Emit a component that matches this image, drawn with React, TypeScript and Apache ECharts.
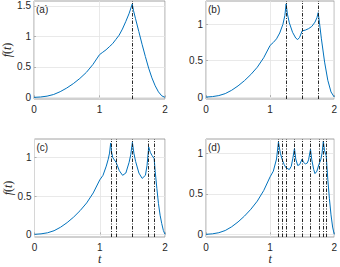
import React, { useEffect, useRef } from 'react';
import * as echarts from 'echarts';

// shared rising part t in [0, 1)
const riseT = [0, 0.1, 0.2, 0.3, 0.4, 0.5, 0.6, 0.7, 0.8, 0.9];
const riseV = [0, 0.006, 0.02, 0.047, 0.093, 0.153, 0.225, 0.31, 0.41, 0.54];

const tA = [1.0, 1.05, 1.1, 1.15, 1.2, 1.25, 1.3, 1.35, 1.4, 1.45, 1.5, 1.52, 1.55, 1.6, 1.65, 1.7, 1.75, 1.8, 1.85, 1.9, 1.95, 2.0];
const fA = [0.70, 0.74, 0.78, 0.83, 0.88, 0.95, 1.02, 1.12, 1.24, 1.37, 1.53, 1.42, 1.29, 1.08, 0.87, 0.67, 0.48, 0.32, 0.19, 0.09, 0.025, 0];
const linesA = [1.5];

const tB = [1.0, 1.05, 1.1, 1.15, 1.2, 1.23, 1.25, 1.27, 1.3, 1.35, 1.4, 1.43, 1.46, 1.5, 1.55, 1.6, 1.65, 1.7, 1.73, 1.75, 1.77, 1.8, 1.85, 1.9, 1.95, 2.0];
const fB = [0.71, 0.75, 0.8, 0.88, 1.0, 1.12, 1.28, 1.14, 1.02, 0.89, 0.81, 0.79, 0.82, 0.91, 0.92, 0.94, 0.97, 1.03, 1.09, 1.16, 1.02, 0.8, 0.48, 0.23, 0.07, 0];
const linesB = [1.25, 1.5, 1.75];

const tC = [1.0, 1.05, 1.1, 1.13, 1.15, 1.167, 1.18, 1.2, 1.225, 1.25, 1.3, 1.35, 1.4, 1.45, 1.475, 1.5, 1.525, 1.55, 1.6, 1.65, 1.7, 1.725, 1.75, 1.775, 1.8, 1.833, 1.85, 1.875, 1.9, 1.925, 1.95, 1.975, 2.0];
const fC = [0.71, 0.77, 0.89, 0.98, 1.06, 1.19, 1.08, 1.0, 0.97, 0.94, 0.83, 0.77, 0.8, 0.94, 1.04, 1.2, 1.05, 0.95, 0.8, 0.73, 0.77, 0.9, 1.14, 1.07, 1.03, 0.99, 0.82, 0.6, 0.4, 0.25, 0.14, 0.05, 0];
const linesC = [1.167, 1.25, 1.5, 1.75, 1.833];

const tD = [1.0, 1.05, 1.1, 1.13, 1.16, 1.19, 1.22, 1.25, 1.3, 1.33, 1.355, 1.38, 1.4, 1.43, 1.46, 1.5, 1.52, 1.55, 1.58, 1.6, 1.63, 1.65, 1.68, 1.7, 1.73, 1.76, 1.79, 1.81, 1.83, 1.85, 1.875, 1.9, 1.925, 1.95, 1.975, 2.0];
const fD = [0.71, 0.78, 0.93, 1.14, 1.0, 0.92, 0.86, 0.82, 0.8, 0.84, 0.94, 1.06, 0.93, 0.85, 0.86, 0.93, 0.89, 0.87, 0.88, 0.92, 1.05, 0.92, 0.8, 0.75, 0.78, 0.86, 0.92, 1.0, 1.15, 1.03, 0.97, 0.68, 0.44, 0.24, 0.09, 0];
const linesD = [1.13, 1.19, 1.25, 1.38, 1.5, 1.63, 1.76, 1.83, 1.875];

const xTicks = [0, 1, 2];
const yTicksA = [0, 0.5, 1, 1.5];
const yTicksOther = [0, 0.5, 1];
const panelLabels = ['(a)', '(b)', '(c)', '(d)'];
const yRanges = [[-0.027, 1.58], [-0.027, 1.32], [-0.035, 1.244], [-0.033, 1.177]];

const panels = [
  { t: tA, f: fA, lines: linesA, yTicks: yTicksA },
  { t: tB, f: fB, lines: linesB, yTicks: yTicksOther },
  { t: tC, f: fC, lines: linesC, yTicks: yTicksOther },
  { t: tD, f: fD, lines: linesD, yTicks: yTicksOther },
];

const grids = [
  { left: 34, top: 1, width: 131, height: 98 },
  { left: 206, top: 1, width: 130, height: 98 },
  { left: 34.5, top: 139, width: 130.5, height: 98 },
  { left: 206, top: 139, width: 130, height: 98 },
];

const FONT = 'Liberation Sans, Arial, sans-serif';
const SERIF = 'Liberation Serif, serif';
const TXT = '#262626';

export default function App() {
  const ref = useRef<HTMLDivElement>(null);
  useEffect(() => {
    if (!ref.current) return;
    const chart = echarts.init(ref.current, undefined, { renderer: 'svg' });
    const option: any = {
      animation: false,
      backgroundColor: '#fff',
      grid: grids.map((g) => ({ ...g, show: true, borderColor: '#8a8a8a', borderWidth: 0.8, backgroundColor: 'transparent' })),
      xAxis: grids.map((g, i) => ({
        type: 'value',
        gridIndex: i,
        min: 0,
        max: 2,
        interval: 1,
        axisLine: { show: false },
        axisTick: { show: true, inside: true, length: 2, lineStyle: { color: '#8a8a8a', width: 0.6 } },
        axisLabel: { show: true, margin: 5, fontSize: 10, color: TXT, fontFamily: FONT, formatter: (v: number) => (xTicks.includes(v) ? String(v) : '') },
        splitLine: { show: true, lineStyle: { color: '#e3e3e3', width: 0.8 } },
        name: i >= 2 ? 't' : '',
        nameLocation: 'middle',
        nameGap: 16,
        nameTextStyle: { fontFamily: SERIF, fontStyle: 'italic', fontSize: 12, color: TXT },
      })),
      yAxis: grids.map((g, i) => ({
        type: 'value',
        gridIndex: i,
        min: yRanges[i][0],
        max: yRanges[i][1],
        axisLine: { show: false },
        axisTick: { show: true, inside: true, length: 2, customValues: panels[i].yTicks, lineStyle: { color: '#8a8a8a', width: 0.6 } },
        axisLabel: { show: true, margin: 3, fontSize: 10, color: TXT, fontFamily: FONT, customValues: panels[i].yTicks },
        splitLine: { show: true, lineStyle: { color: '#e3e3e3', width: 0.8 } },
        name: i % 2 === 0 ? '{i|f}{n|(}{i|t}{n|)}' : '',
        nameLocation: 'middle',
        nameGap: 18,
        nameTextStyle: {
          fontFamily: SERIF,
          fontSize: 12,
          color: TXT,
          rich: {
            i: { fontFamily: SERIF, fontStyle: 'italic', fontSize: 12, color: TXT },
            n: { fontFamily: SERIF, fontSize: 12, color: TXT },
          },
        },
      })),
      series: panels.map((p, i) => ({
        type: 'line',
        xAxisIndex: i,
        yAxisIndex: i,
        showSymbol: false,
        symbol: 'none',
        lineStyle: { color: '#0072BD', width: 1 },
        data: riseT.map((t, k) => [t, riseV[k]]).concat(p.t.map((t, k) => [t, p.f[k]])),
        markLine: {
          silent: true,
          symbol: ['none', 'none'],
          label: { show: false },
          lineStyle: { color: '#111', type: [3.5, 1.5, 1, 1.5], width: 0.9 },
          data: p.lines.map((v) => ({ xAxis: v })),
        },
        z: 3,
      })),
      graphic: grids.map((g, i) => ({
        type: 'text',
        left: g.left + 2,
        top: g.top + 3,
        style: { text: panelLabels[i], fontSize: 10, fontFamily: FONT, fill: TXT },
      })),
    };
    chart.setOption(option);
    return () => chart.dispose();
  }, []);
  return <div ref={ref} style={{ position: 'absolute', left: 0, top: 0, width: 340, height: 267 }} />;
}
